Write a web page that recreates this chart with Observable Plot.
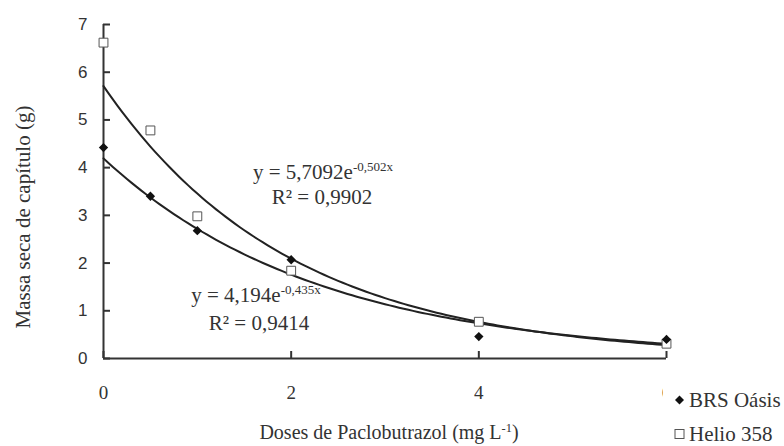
<!DOCTYPE html>
<html>
<head>
<meta charset="utf-8">
<script src="https://cdn.jsdelivr.net/npm/d3@7"></script>
<script src="https://cdn.jsdelivr.net/npm/@observablehq/plot@0.6"></script>
<style>
  html, body { margin: 0; padding: 0; background: #fff; }
  #wrap { position: relative; width: 784px; height: 446px; overflow: hidden; background: #fff; }
  #wrap > svg { position: absolute; left: 0; top: 0; }
  .ov { position: absolute; white-space: nowrap; font-family: "Liberation Serif", "Times New Roman", serif; color: #333; transform: translate(-50%, -50%); line-height: 1; }
  .ov sup { font-size: 0.62em; vertical-align: 0.55em; line-height: 0; }
  #legend { position: absolute; left: 663px; top: 378px; width: 121px; height: 68px; background: #fff; font-family: "Liberation Serif", "Times New Roman", serif; font-size: 21px; color: #333; }
  #legend .li { position: absolute; left: 11px; display: flex; align-items: center; white-space: nowrap; transform: translateY(-50%); line-height: 1; }
  #legend .li svg { position: static; display: block; margin-right: 4px; }
</style>
</head>
<body>
<div id="wrap"></div>
<script>
// ---- data ----
const doses = [0, 0.5, 1, 2, 4, 6];
const brsOasis = [4.42, 3.40, 2.68, 2.07, 0.46, 0.40];
const helio358 = [6.62, 4.78, 2.98, 1.84, 0.77, 0.31];
const seriesNames = ["BRS Oásis", "Helio 358"];
const xTicks = [0, 2, 4, 6];
const yTicks = [0, 1, 2, 3, 4, 5, 6, 7];
// fitted trendlines printed on the chart: y = a * e^(b x)
const fitOasis = [4.194, -0.435];
const fitHelio = [5.7092, -0.502];
const eqOasis = ["y = 4,194e", "-0,435x", "R² = 0,9414"];
const eqHelio = ["y = 5,7092e", "-0,502x", "R² = 0,9902"];

const ptsOasis = doses.map((x, i) => ({x, y: brsOasis[i]}));
const ptsHelio = doses.map((x, i) => ({x, y: helio358[i]}));
const xs = d3.range(0, 6.0001, 0.05);
const curveOasis = xs.map(x => ({x, y: fitOasis[0] * Math.exp(fitOasis[1] * x)}));
const curveHelio = xs.map(x => ({x, y: fitHelio[0] * Math.exp(fitHelio[1] * x)}));

const W = 784, H = 446, mL = 103, mR = 118, mT = 24, mB = 88;
const xDomain = [0, 6], yDomain = [0, 7];
const axisColor = "#333";
const tickPx = 7;
// tick length converted from pixels into data units (inward ticks)
const tickDX = tickPx * (xDomain[1] - xDomain[0]) / (W - mL - mR);
const tickDY = tickPx * (yDomain[1] - yDomain[0]) / (H - mT - mB);

const chart = Plot.plot({
  width: W,
  height: H,
  marginLeft: mL,
  marginRight: mR,
  marginTop: mT,
  marginBottom: mB,
  style: {background: "transparent", color: "#333", fontFamily: "Liberation Serif, serif"},
  x: {domain: xDomain},
  y: {domain: yDomain},
  marks: [
    // tick labels
    Plot.axisY(yTicks, {anchor: "left", tickSize: 0, tickPadding: 16, fontFamily: "Liberation Sans, Arial, sans-serif", fontSize: 17, fill: "#333", label: null}),
    Plot.axisX(xTicks, {anchor: "bottom", tickSize: 0, tickPadding: 27, fontFamily: "Liberation Serif, serif", fontSize: 19, fill: "#333", label: null}),
    // inward tick marks
    Plot.ruleY(yTicks, {y: d => d, x1: 0, x2: tickDX, stroke: axisColor, strokeWidth: 2}),
    Plot.ruleX(xTicks, {x: d => d, y1: 0, y2: tickDY, stroke: axisColor, strokeWidth: 2}),
    Plot.ruleX([0], {y1: 0, y2: 7, stroke: axisColor, strokeWidth: 2}),
    Plot.ruleY([0], {x1: 0, x2: 6, stroke: axisColor, strokeWidth: 2}),
    Plot.line(curveHelio, {x: "x", y: "y", stroke: "#222", strokeWidth: 2}),
    Plot.line(curveOasis, {x: "x", y: "y", stroke: "#222", strokeWidth: 2}),
    Plot.dot(ptsHelio, {x: "x", y: "y", symbol: "square", r: 5, fill: "#fff", stroke: "#555", strokeWidth: 1}),
    Plot.dot(ptsOasis, {x: "x", y: "y", symbol: "diamond2", r: 4.2, fill: "#111", stroke: "none"})
  ]
});

const wrap = document.getElementById("wrap");
wrap.appendChild(chart);

function ov(html, cx, cy, size, extra) {
  const d = document.createElement("div");
  d.className = "ov";
  d.style.left = cx + "px";
  d.style.top = cy + "px";
  d.style.fontSize = size + "px";
  if (extra) d.style.transform = extra;
  d.innerHTML = html;
  wrap.appendChild(d);
}

// axis titles
ov("Massa seca de capítulo (g)", 23, 217, 21, "translate(-50%, -50%) rotate(-90deg)");
ov("Doses de Paclobutrazol (mg L<sup>-1</sup>)", 389, 432, 20);

// trendline equations
ov(eqHelio[0] + "<sup>" + eqHelio[1] + "</sup>", 323, 172, 21);
ov(eqHelio[2], 322, 197, 21);
ov(eqOasis[0] + "<sup>" + eqOasis[1] + "</sup>", 256, 295, 21);
ov(eqOasis[2], 259, 323, 21);

// legend
const lg = document.createElement("div");
lg.id = "legend";
lg.innerHTML =
  `<div class="li" style="top:22px"><svg width="11" height="11" viewBox="-5.5 -5.5 11 11"><path d="M0,-4.5L4.5,0L0,4.5L-4.5,0Z" fill="#111"/></svg><span>${seriesNames[0]}</span></div>` +
  `<div class="li" style="top:56px"><svg width="11" height="11" viewBox="-5.5 -5.5 11 11"><rect x="-4.5" y="-4.5" width="9" height="9" fill="#fff" stroke="#555" stroke-width="1"/></svg><span>${seriesNames[1]}</span></div>`;
wrap.appendChild(lg);
</script>
</body>
</html>
